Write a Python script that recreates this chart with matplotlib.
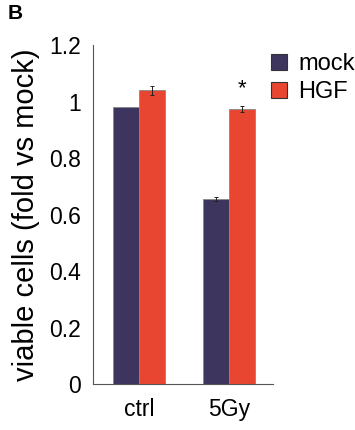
import matplotlib
matplotlib.use("Agg")
import matplotlib.pyplot as plt
import numpy as np

plt.rcParams['font.family'] = ['Liberation Sans', 'DejaVu Sans']

groups = ['ctrl', '5Gy']
mock = [0.98, 0.655]
mock_err = [np.nan, 0.008]
hgf = [1.04, 0.975]
hgf_err = [0.017, 0.01]
yticks = [0, 0.2, 0.4, 0.6, 0.8, 1, 1.2]
ytick_labels = ['0', '0.2', '0.4', '0.6', '0.8', '1', '1.2']

mock_color = '#3d355e'
hgf_color = '#e94632'

fig = plt.figure(figsize=(3.55, 4.3), dpi=100)
ax = fig.add_axes([0.262, 0.107, 0.507, 0.788])

x = np.arange(len(groups))
w = 0.29
ekw = dict(ecolor='#222222', elinewidth=0.7, capsize=1.5, capthick=0.7)
ax.bar(x - w / 2, mock, w, color=mock_color, edgecolor='#888888', linewidth=0.6,
       label='mock', yerr=mock_err, error_kw=ekw)
ax.bar(x + w / 2, hgf, w, color=hgf_color, edgecolor='#888888', linewidth=0.6,
       label='HGF', yerr=hgf_err, error_kw=ekw)

# significance
ax.text(x[1] + w / 2, hgf[1] + 0.07, '*', ha='center', va='center', fontsize=16)

ax.set_xlim(-0.51, 1.49)
ax.set_ylim(0, 1.2)
ax.set_yticks(yticks)
ax.set_yticklabels(ytick_labels)
ax.set_xticks(x)
ax.set_xticklabels(groups)
ax.tick_params(axis='both', length=0, labelsize=16.5, pad=10)
ax.tick_params(axis='y', pad=9)
for s in ['top', 'right']:
    ax.spines[s].set_visible(False)
for s in ['left', 'bottom']:
    ax.spines[s].set_color('#555555')
    ax.spines[s].set_linewidth(0.8)

ax.set_ylabel('viable cells (fold vs mock)', fontsize=21, labelpad=6)

leg = ax.legend(loc='upper left', bbox_to_anchor=(0.965, 0.99), frameon=False, fontsize=17,
                handlelength=0.65, handleheight=0.65, handletextpad=0.5, labelspacing=0.25,
                borderaxespad=0.0, borderpad=0.2)
for h in leg.legend_handles:
    h.set_edgecolor('#333333')
    h.set_linewidth(0.8)

fig.text(0.022, 0.99, 'B', fontsize=15, fontweight='bold', va='top', ha='left')

fig.savefig('out.png', dpi=100, facecolor='white')
